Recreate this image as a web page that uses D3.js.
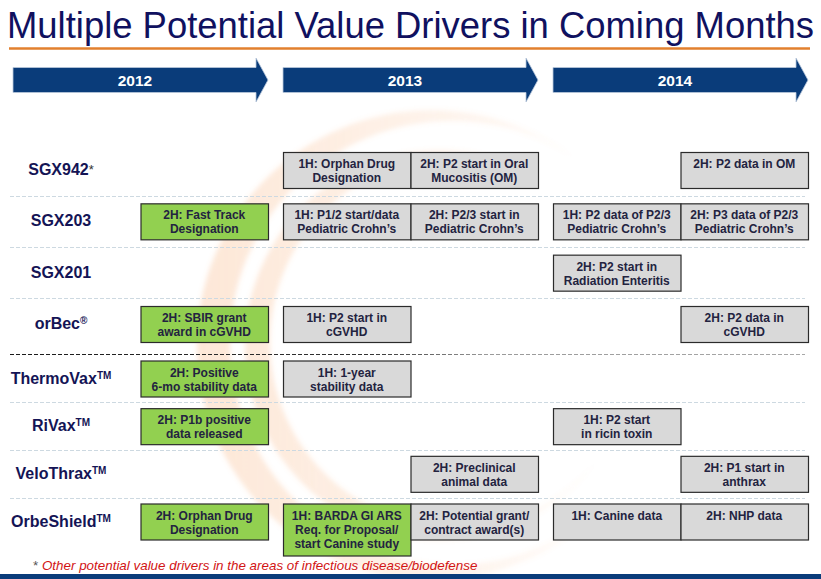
<!DOCTYPE html>
<html>
<head>
<meta charset="utf-8">
<script src="https://cdn.jsdelivr.net/npm/d3@7"></script>
<style>
  body { margin: 0; background: #fff; }
  svg { display: block; font-family: Arial, "Liberation Sans", sans-serif; }
</style>
</head>
<body>
<div id="chart"></div>
<script>
// ---- data ----
const years = [2012, 2013, 2014];
const halves = ["1H", "2H"];
const products = ["SGX942", "SGX203", "SGX201", "orBec", "ThermoVax", "RiVax", "VeloThrax", "OrbeShield"];
const productMarks = ["*", "", "", "®", "TM", "TM", "TM", "TM"];
const productGroups = ["bio", "bio", "bio", "bio", "vax", "vax", "vax", "vax"];

// [product, year, half, achieved, text lines]
const milestones = [
  ["SGX942", 2013, "1H", false, ["1H: Orphan Drug", "Designation"]],
  ["SGX942", 2013, "2H", false, ["2H: P2 start in Oral", "Mucositis (OM)"]],
  ["SGX942", 2014, "2H", false, ["2H:  P2 data in OM"]],
  ["SGX203", 2012, "2H", true, ["2H: Fast Track", "Designation"]],
  ["SGX203", 2013, "1H", false, ["1H: P1/2 start/data", "Pediatric Crohn\u2019s"]],
  ["SGX203", 2013, "2H", false, ["2H: P2/3 start in", "Pediatric Crohn\u2019s"]],
  ["SGX203", 2014, "1H", false, ["1H: P2 data of P2/3", "Pediatric Crohn\u2019s"]],
  ["SGX203", 2014, "2H", false, ["2H: P3 data of P2/3", "Pediatric Crohn\u2019s"]],
  ["SGX201", 2014, "1H", false, ["2H: P2 start in", "Radiation Enteritis"]],
  ["orBec", 2012, "2H", true, ["2H: SBIR grant", "award in cGVHD"]],
  ["orBec", 2013, "1H", false, ["1H: P2 start in", "cGVHD"]],
  ["orBec", 2014, "2H", false, ["2H: P2 data in", "cGVHD"]],
  ["ThermoVax", 2012, "2H", true, ["2H: Positive", "6-mo stability data"]],
  ["ThermoVax", 2013, "1H", false, ["1H: 1-year", "stability data"]],
  ["RiVax", 2012, "2H", true, ["2H: P1b positive", "data released"]],
  ["RiVax", 2014, "1H", false, ["1H: P2 start", "in ricin toxin"]],
  ["VeloThrax", 2013, "2H", false, ["2H: Preclinical", "animal data"]],
  ["VeloThrax", 2014, "2H", false, ["2H: P1 start in", "anthrax"]],
  ["OrbeShield", 2012, "2H", true, ["2H: Orphan Drug", "Designation"]],
  ["OrbeShield", 2013, "1H", true, ["1H: BARDA GI ARS", "Req. for Proposal/", "start Canine study"]],
  ["OrbeShield", 2013, "2H", false, ["2H: Potential grant/", "contract award(s)"]],
  ["OrbeShield", 2014, "1H", false, ["1H: Canine data"]],
  ["OrbeShield", 2014, "2H", false, ["2H: NHP data"]]
];

const title = "Multiple Potential Value Drivers in Coming Months";
const footnoteMark = "* ";
const footnote = "Other potential value drivers in the areas of infectious disease/biodefense";

// ---- layout ----
const W = 821, H = 579;
const NAVY = "#0a3c7a";
const TEXT = "#232340";
const LABEL = "#141455";

const svg = d3.select("#chart").append("svg")
  .attr("width", W)
  .attr("height", H)
  .attr("viewBox", `0 0 ${W} ${H}`);

const defs = svg.append("defs");

// year start positions, each year split into two halves
const x = d3.scaleLinear().domain([2012, 2015]).range([13, 823]);
const xHalf = d3.scaleBand().domain(halves).range([0, 255]);

// the two product groups get their own vertical spacing
const yBio = d3.scalePoint()
  .domain(products.filter((p, i) => productGroups[i] === "bio"))
  .range([170, 324]);
const yVax = d3.scalePoint()
  .domain(products.filter((p, i) => productGroups[i] === "vax"))
  .range([378.5, 521.5]);
const y = p => productGroups[products.indexOf(p)] === "bio" ? yBio(p) : yVax(p);

const BOX_H = 36, LINE_H = 14;

// ---- faded logo watermark ----
const wmGrad = defs.append("linearGradient")
  .attr("id", "wm")
  .attr("gradientUnits", "userSpaceOnUse")
  .attr("x1", 200).attr("x2", 640).attr("y1", 0).attr("y2", 0);
wmGrad.append("stop").attr("offset", 0).attr("stop-color", "#f6a466").attr("stop-opacity", 0.26);
wmGrad.append("stop").attr("offset", 0.55).attr("stop-color", "#f6a466").attr("stop-opacity", 0.13);
wmGrad.append("stop").attr("offset", 1).attr("stop-color", "#f6a466").attr("stop-opacity", 0);

defs.append("filter").attr("id", "soft")
  .attr("x", "-10%").attr("y", "-10%").attr("width", "120%").attr("height", "120%")
  .append("feGaussianBlur").attr("stdDeviation", 2.5);

const crescents = [
  { outer: [432, 345, 235], inner: [452, 343, 222] },
  { outer: [440, 345, 195], inner: [455, 342, 185] }
];
const wm = svg.append("g").attr("filter", "url(#soft)");
crescents.forEach((c, i) => {
  const m = defs.append("mask").attr("id", "cm" + i)
    .attr("maskUnits", "userSpaceOnUse")
    .attr("x", 0).attr("y", 0).attr("width", W).attr("height", H);
  m.append("rect").attr("width", W).attr("height", H).attr("fill", "black");
  m.append("circle").attr("cx", c.outer[0]).attr("cy", c.outer[1]).attr("r", c.outer[2]).attr("fill", "white");
  m.append("circle").attr("cx", c.inner[0]).attr("cy", c.inner[1]).attr("r", c.inner[2]).attr("fill", "black");
  wm.append("rect")
    .attr("width", W).attr("height", H)
    .attr("fill", "url(#wm)")
    .attr("mask", `url(#cm${i})`);
});

// ---- title ----
svg.append("text")
  .attr("x", 7)
  .attr("y", 38)
  .attr("fill", "#10115f")
  .style("font-size", "36px")
  .attr("textLength", 807)
  .attr("lengthAdjust", "spacingAndGlyphs")
  .text(title);

svg.append("line")
  .attr("x1", 9).attr("x2", 810)
  .attr("y1", 48.5).attr("y2", 48.5)
  .attr("stroke", "#e2802e")
  .attr("stroke-width", 2.5);

// ---- year arrows ----
const arrowY = 80;
const arrows = svg.append("g").selectAll("g")
  .data(years)
  .join("g");

arrows.append("path")
  .attr("d", yr => {
    const x0 = x(yr), x1 = x(yr) + 243, tip = x(yr) + 255;
    return `M${x0},${arrowY - 12.5} L${x1},${arrowY - 12.5} L${x1},${arrowY - 22} L${tip},${arrowY}` +
      ` L${x1},${arrowY + 22} L${x1},${arrowY + 12.5} L${x0},${arrowY + 12.5} Z`;
  })
  .attr("fill", NAVY)
  .attr("stroke", "#b9c8da")
  .attr("stroke-width", 0.8);

arrows.append("text")
  .attr("x", yr => x(yr) + 122)
  .attr("y", arrowY + 6)
  .attr("text-anchor", "middle")
  .attr("fill", "#fff")
  .style("font-size", "15.5px")
  .style("font-weight", "bold")
  .text(yr => yr);

// ---- row separators ----
const sepGrad = defs.append("linearGradient")
  .attr("id", "sepDark")
  .attr("gradientUnits", "userSpaceOnUse")
  .attr("x1", 10).attr("x2", 805);
sepGrad.append("stop").attr("offset", 0).attr("stop-color", "#1a1a1a");
sepGrad.append("stop").attr("offset", 0.45).attr("stop-color", "#333");
sepGrad.append("stop").attr("offset", 0.6).attr("stop-color", "#9a9a9a");
sepGrad.append("stop").attr("offset", 1).attr("stop-color", "#a8a8a8");

const isBreak = (a, b) => productGroups[products.indexOf(a)] !== productGroups[products.indexOf(b)];
const seps = d3.pairs(products).map(([a, b]) => ({
  y: (y(a) + y(b)) / 2 + (isBreak(a, b) ? 3 : 0),
  dark: isBreak(a, b)
}));

svg.append("g").selectAll("line")
  .data(seps)
  .join("line")
  .attr("x1", 10).attr("x2", 805)
  .attr("y1", d => Math.round(d.y) + 0.5)
  .attr("y2", d => Math.round(d.y) + 0.5)
  .attr("stroke", d => d.dark ? "url(#sepDark)" : "#cdd9e1")
  .attr("stroke-width", d => d.dark ? 1.2 : 1)
  .attr("stroke-dasharray", "4,2");

// ---- product labels ----
const labels = svg.append("g").selectAll("text")
  .data(products)
  .join("text")
  .attr("x", 61)
  .attr("y", d => y(d) + 5)
  .attr("text-anchor", "middle")
  .attr("fill", LABEL)
  .style("font-size", "16px")
  .style("font-weight", "bold");

labels.append("tspan").text(d => d);
labels.append("tspan")
  .attr("dy", (d, i) => productMarks[i] === "*" ? -1 : -5)
  .attr("fill", (d, i) => productMarks[i] === "*" ? "#333" : LABEL)
  .style("font-size", (d, i) => productMarks[i] === "*" ? "13px" : "10px")
  .style("font-weight", (d, i) => productMarks[i] === "*" ? "normal" : "bold")
  .text((d, i) => productMarks[i]);

// ---- milestone boxes ----
const boxes = svg.append("g").selectAll("g")
  .data(milestones)
  .join("g")
  .attr("transform", d => `translate(${x(d[1]) + xHalf(d[2])},${y(d[0]) - BOX_H / 2})`);

boxes.append("rect")
  .attr("x", 0.5).attr("y", 0.5)
  .attr("width", xHalf.bandwidth())
  .attr("height", d => BOX_H + Math.max(0, d[4].length - 2) * 16)
  .attr("fill", d => d[3] ? "#92d050" : "#d9d9d9")
  .attr("stroke", "#2b2b2b")
  .attr("stroke-width", 1.2);

boxes.append("text")
  .attr("text-anchor", "middle")
  .attr("fill", TEXT)
  .style("font-size", "12px")
  .style("font-weight", "bold")
  .selectAll("tspan")
  .data(d => d[4])
  .join("tspan")
  .attr("x", xHalf.bandwidth() / 2)
  .attr("y", (t, i) => 16 + i * LINE_H)
  .text(t => t);

// ---- footnote ----
const fn = svg.append("text")
  .attr("x", 33)
  .attr("y", 570)
  .style("font-size", "13.4px");
fn.append("tspan").attr("fill", "#555").text(footnoteMark);
fn.append("tspan").attr("fill", "#d21414").style("font-style", "italic").text(footnote);

svg.append("rect")
  .attr("x", 0).attr("y", 574)
  .attr("width", W).attr("height", 5)
  .attr("fill", NAVY);
</script>
</body>
</html>
